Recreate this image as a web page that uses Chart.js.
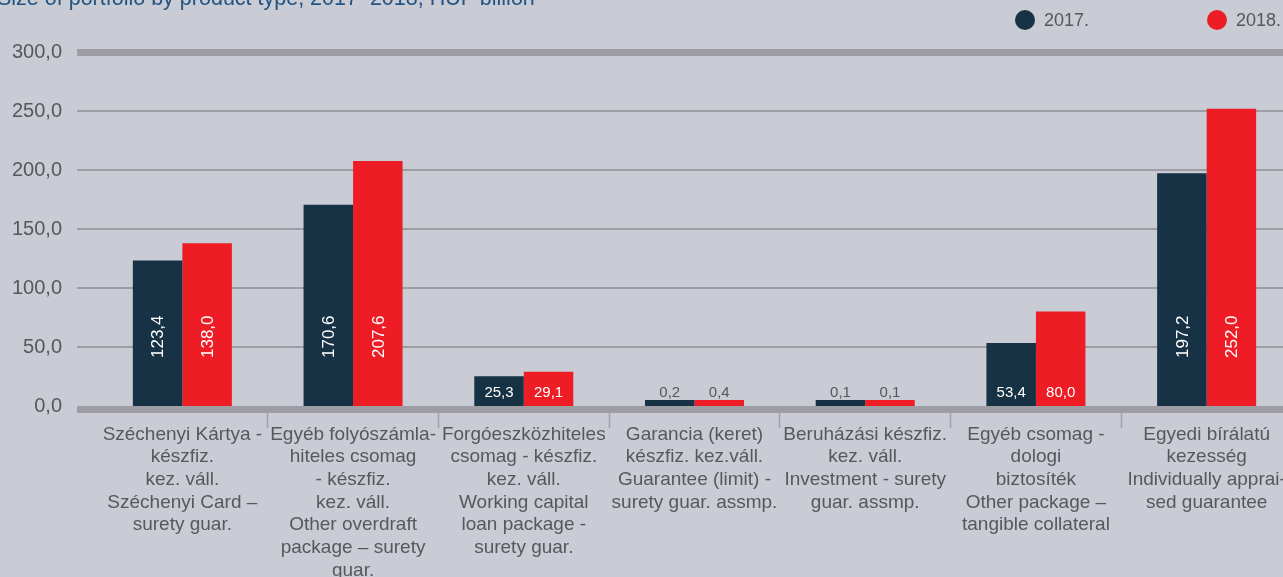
<!DOCTYPE html>
<html>
<head>
<meta charset="utf-8">
<script src="https://cdn.jsdelivr.net/npm/chart.js@4.4.1/dist/chart.umd.min.js"></script>
<style>
  html, body { margin: 0; padding: 0; background: #c9ccd4; overflow: hidden; }
  #wrap { position: relative; width: 1283px; height: 577px; overflow: hidden; font-family: "Liberation Sans", Arial, sans-serif; }
  #title { position: absolute; left: -3px; top: -12px; font-size: 21.5px; line-height: 21.5px; color: #235483; white-space: nowrap; }
  .legend-item { position: absolute; top: 10px; height: 20px; display: flex; align-items: center; font-size: 18px; color: #58585a; }
  .dot { width: 20px; height: 20px; border-radius: 50%; margin-right: 9px; }
  canvas { position: absolute; left: 0; top: 0; }
</style>
</head>
<body>
<div id="wrap">
  <canvas id="portfolioChart" width="1292" height="577"></canvas>
  <div id="title">Size of portfolio by product type, 2017–2018, HUF billion</div>
  <div id="legend"></div>
</div>
<script>
const categories = [
    ['Széchenyi Kártya -', 'készfiz.', 'kez. váll.', 'Széchenyi Card –', 'surety guar.'],
    ['Egyéb folyószámla-', 'hiteles csomag', '- készfiz.', 'kez. váll.', 'Other overdraft', 'package – surety', 'guar.'],
    ['Forgóeszközhiteles', 'csomag - készfiz.', 'kez. váll.', 'Working capital', 'loan package -', 'surety guar.'],
    ['Garancia (keret)', 'készfiz. kez.váll.', 'Guarantee (limit) -', 'surety guar. assmp.'],
    ['Beruházási készfiz.', 'kez. váll.', 'Investment - surety', 'guar. assmp.'],
    ['Egyéb csomag -', 'dologi', 'biztosíték', 'Other package –', 'tangible collateral'],
    ['Egyedi bírálatú', 'kezesség', 'Individually apprai-', 'sed guarantee']
];
const values2017 = [123.4, 170.6, 25.3, 0.2, 0.1, 53.4, 197.2];
const values2018 = [138.0, 207.6, 29.1, 0.4, 0.1, 80.0, 252.0];
const seriesNames = ['2017.', '2018.'];
const seriesColors = ['#173145', '#ee1c25'];
const yTicks = [0, 50, 100, 150, 200, 250, 300];

const gridColor = '#9d9da3';
const textColor = '#58585a';
const fontFamily = '"Liberation Sans", Arial, sans-serif';

function fmt(v) {
    return v.toFixed(1).replace('.', ',');
}

// legend (html)
const legendLeft = [1015, 1207];
seriesNames.forEach((name, i) => {
    const item = document.createElement('div');
    item.className = 'legend-item';
    item.style.left = legendLeft[i] + 'px';
    item.innerHTML = `<span class="dot" style="background:${seriesColors[i]}"></span>${name}`;
    document.getElementById('legend').appendChild(item);
});

// thick base line under the bars
const baseLine = {
    id: 'baseLine',
    afterDatasetsDraw(chart) {
        const ctx = chart.ctx;
        const y = chart.scales.y.getPixelForValue(0);
        const { left, right } = chart.chartArea;
        ctx.save();
        ctx.fillStyle = gridColor;
        ctx.fillRect(left - 20, Math.round(y), right - left + 20, 7);
        ctx.restore();
    }
};

// value labels inside / above bars
const valueLabels = {
    id: 'valueLabels',
    afterDatasetsDraw(chart) {
        const ctx = chart.ctx;
        chart.data.datasets.forEach((ds, di) => {
            chart.getDatasetMeta(di).data.forEach((bar, i) => {
                const v = ds.data[i];
                ctx.save();
                if (v >= 100) {
                    ctx.font = '17px ' + fontFamily;
                    ctx.fillStyle = '#ffffff';
                    ctx.translate(bar.x + 1, bar.base - 48);
                    ctx.rotate(-Math.PI / 2);
                    ctx.textAlign = 'left';
                    ctx.textBaseline = 'middle';
                    ctx.fillText(fmt(v), 0, 0);
                } else {
                    ctx.font = '15px ' + fontFamily;
                    ctx.fillStyle = v < 1 ? textColor : '#ffffff';
                    ctx.textAlign = 'center';
                    ctx.textBaseline = 'middle';
                    ctx.fillText(fmt(v), bar.x, bar.base - 13);
                }
                ctx.restore();
            });
        });
    }
};

const ctx = document.getElementById('portfolioChart').getContext('2d');
new Chart(ctx, {
    type: 'bar',
    data: {
        labels: categories,
        datasets: [{
            label: seriesNames[0],
            data: values2017,
            backgroundColor: seriesColors[0],
            minBarLength: 6
        }, {
            label: seriesNames[1],
            data: values2018,
            backgroundColor: seriesColors[1],
            minBarLength: 6
        }]
    },
    options: {
        responsive: false,
        animation: false,
        events: [],
        categoryPercentage: 0.58,
        barPercentage: 1,
        layout: { padding: { left: 0, right: 0, top: 52, bottom: 0 } },
        plugins: {
            legend: { display: false },
            tooltip: { enabled: false }
        },
        scales: {
            x: {
                afterFit: (scale) => { scale.height = 171; },
                border: { display: false },
                grid: {
                    drawOnChartArea: false,
                    drawTicks: true,
                    tickLength: 22,
                    tickWidth: 1.5,
                    tickColor: (c) => (c.index >= 1 && c.index <= 6) ? '#a3a3a9' : 'rgba(0,0,0,0)'
                },
                ticks: {
                    padding: -5,
                    maxRotation: 0,
                    autoSkip: false,
                    color: textColor,
                    font: { family: fontFamily, size: 19, lineHeight: 1.195 }
                }
            },
            y: {
                min: yTicks[0],
                max: yTicks[yTicks.length - 1],
                afterFit: (scale) => { scale.width = 97; },
                afterBuildTicks: (scale) => { scale.ticks = yTicks.map(v => ({ value: v })); },
                border: { display: false },
                grid: {
                    color: gridColor,
                    tickLength: 20,
                    lineWidth: (c) => c.tick.value === 300 ? 7 : (c.tick.value === 0 ? 0 : 2)
                },
                ticks: {
                    padding: 15,
                    color: textColor,
                    font: { family: fontFamily, size: 20 },
                    callback: (v) => fmt(v)
                }
            }
        }
    },
    plugins: [baseLine, valueLabels]
});
</script>
</body>
</html>
